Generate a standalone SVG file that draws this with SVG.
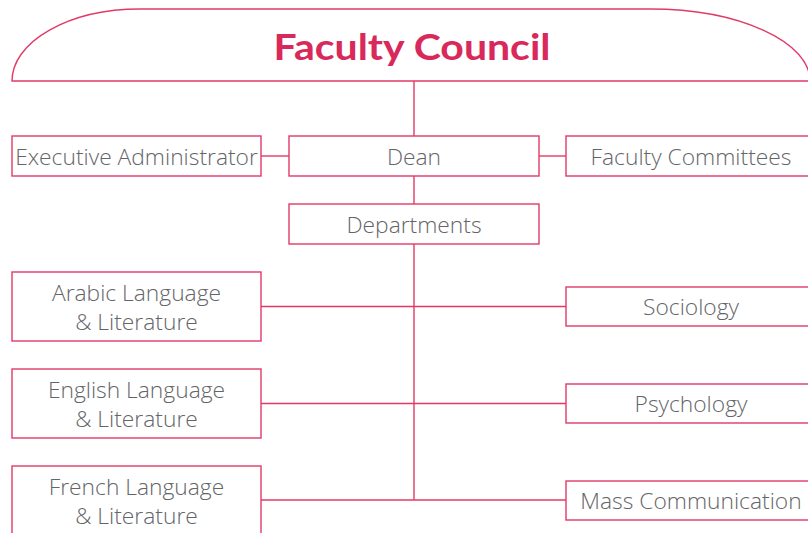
<svg xmlns="http://www.w3.org/2000/svg" width="808" height="533" viewBox="0 0 808 533">
<style>
.box{fill:#fff;stroke:#e23a68;stroke-width:1.4}
.ln{fill:none;stroke:#e23a68;stroke-width:1.4}
.t{font-family:"Open Sans","Liberation Sans",sans-serif;font-weight:300;font-size:22.8px;fill:#646568;text-anchor:middle}
.title{font-family:"Lato","Liberation Sans",sans-serif;font-weight:700;font-size:37px;fill:#d9285a;text-anchor:middle}
</style>
<rect width="808" height="533" fill="#fff"/>
<g id="connectors">
<line class="ln" x1="414" y1="81" x2="414" y2="136"/>
<line class="ln" x1="261" y1="156" x2="289" y2="156"/>
<line class="ln" x1="539" y1="156" x2="566" y2="156"/>
<line class="ln" x1="414" y1="176" x2="414" y2="204"/>
<line class="ln" x1="414" y1="244" x2="414" y2="500"/>
<line class="ln" x1="261" y1="306.5" x2="566" y2="306.5"/>
<line class="ln" x1="261" y1="403.5" x2="566" y2="403.5"/>
<line class="ln" x1="261" y1="500" x2="566" y2="500"/>
</g>
<g id="faculty-council">
<path class="ln" d="M12,81 A128,72 0 0 1 140,9 L650,9 A160,72 0 0 1 810,81 Z"/>
<text class="title" x="412" y="60" textLength="277" lengthAdjust="spacingAndGlyphs">Faculty Council</text>
</g>
<g id="executive-administrator">
<rect class="box" x="12" y="136" width="249" height="40"/>
<text class="t" x="136.5" y="164.5">Executive Administrator</text>
</g>
<g id="dean">
<rect class="box" x="289" y="136" width="250" height="40"/>
<text class="t" x="414" y="164.5">Dean</text>
</g>
<g id="faculty-committees">
<rect class="box" x="566" y="136" width="250" height="40"/>
<text class="t" x="691" y="164.5">Faculty Committees</text>
</g>
<g id="departments">
<rect class="box" x="289" y="204" width="250" height="40"/>
<text class="t" x="414" y="232.5">Departments</text>
</g>
<g id="arabic">
<rect class="box" x="12" y="272" width="249" height="69"/>
<text class="t" x="136.5" y="301">Arabic Language</text>
<text class="t" x="136.5" y="330">&amp; Literature</text>
</g>
<g id="english">
<rect class="box" x="12" y="369" width="249" height="69"/>
<text class="t" x="136.5" y="398">English Language</text>
<text class="t" x="136.5" y="427">&amp; Literature</text>
</g>
<g id="french">
<rect class="box" x="12" y="466" width="249" height="80"/>
<text class="t" x="136.5" y="495">French Language</text>
<text class="t" x="136.5" y="524">&amp; Literature</text>
</g>
<g id="sociology">
<rect class="box" x="566" y="287" width="250" height="39"/>
<text class="t" x="691" y="315">Sociology</text>
</g>
<g id="psychology">
<rect class="box" x="566" y="384" width="250" height="39"/>
<text class="t" x="691" y="412">Psychology</text>
</g>
<g id="mass-communication">
<rect class="box" x="566" y="481" width="250" height="39"/>
<text class="t" x="691" y="509">Mass Communication</text>
</g>
</svg>
